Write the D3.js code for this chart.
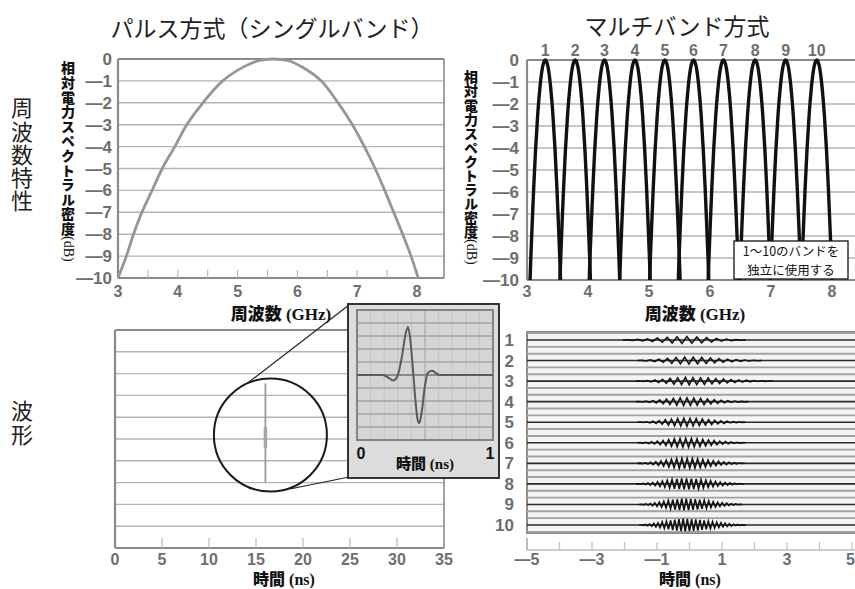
<!DOCTYPE html>
<html><head><meta charset="utf-8">
<script src="https://cdn.jsdelivr.net/npm/d3@7"></script>
<style>body{margin:0;background:#fff}svg{display:block}</style>
</head><body><svg id="c" width="855" height="589"></svg>
<script>
// ---------------- DATA ----------------
const freqTicks = [3, 4, 5, 6, 7, 8];
const freqMinorTicks = [3.5, 4, 4.5, 5, 5.5, 6, 6.5, 7, 7.5, 8];
const dbTicks = [0, -1, -2, -3, -4, -5, -6, -7, -8, -9, -10];

// single band spectrum (GHz, dB)
const singleGHz = [3.0, 3.14, 3.26, 3.4, 3.57, 3.74, 3.95, 4.15, 4.42, 4.75, 5.1, 5.35, 5.6, 5.85, 6.1, 6.4, 6.68, 6.92, 7.12, 7.3, 7.46, 7.61, 7.76, 7.9, 8.02];
const singleDB  = [-10, -9, -8, -7, -6, -5, -4, -3, -2, -1, -0.36, -0.08, 0, -0.08, -0.4, -1, -2, -3, -4, -5, -6, -7, -8, -9, -10];

// multiband spectrum
const bandLabels  = ["1", "2", "3", "4", "5", "6", "7", "8", "9", "10"];
const bandCenters = [3.30, 3.79, 4.27, 4.77, 5.26, 5.73, 6.22, 6.74, 7.24, 7.75];
const bandProfileOffset = [-0.25, -0.236, -0.216, -0.19, -0.16, -0.125, -0.086, -0.045, 0, 0.045, 0.086, 0.125, 0.16, 0.19, 0.216, 0.236, 0.25];
const bandProfileDB     = [-10, -8.9, -7.5, -5.8, -4.1, -2.5, -1.2, -0.32, 0, -0.32, -1.2, -2.5, -4.1, -5.8, -7.5, -8.9, -10];

// single band waveform (35 ns window)
const timeTicksSingle = [0, 5, 10, 15, 20, 25, 30, 35];
const pulseTime = 16;
const pulseSpan = [2.55, -2.0];
const pulseCore = [0.55, -0.4];

// zoomed pulse (0..1 ns)
const insetT = [0, 0.19, 0.23, 0.265, 0.295, 0.33, 0.36, 0.375, 0.39, 0.41, 0.43, 0.445, 0.458, 0.475, 0.5, 0.52, 0.55, 0.58, 0.61, 1];
const insetV = [0, 0, -0.2, -0.42, -0.15, 1.4, 3.3, 3.7, 2.9, 0.6, -2.0, -3.4, -3.7, -2.9, -0.8, 0.15, 0.32, 0.15, 0, 0];

// multiband waveforms
const timeTicksMulti = [-5, -3, -1, 1, 3, 5];
const rowStart = [-2.05, -1.6, -1.65, -1.65, -1.6, -1.6, -1.6, -1.65, -1.55, -1.55];
const rowPeakT = [-0.15, -0.1, -0.1, -0.15, -0.15, -0.15, -0.15, -0.15, -0.15, -0.15];
const rowEnd   = [1.8, 2.3, 2.6, 1.85, 1.75, 1.75, 1.75, 1.75, 1.65, 1.75];
const rowPeak  = [0.17, 0.17, 0.18, 0.19, 0.2, 0.22, 0.25, 0.27, 0.29, 0.31];
const envU = [0, 0.2, 0.4, 0.6, 0.8, 1];
const envA = [0, 0.12, 0.32, 0.6, 0.88, 1];

// ---------------- SETUP ----------------
const svg = d3.select('#c');
svg.append('rect').attr('width', 855).attr('height', 589).attr('fill', '#fff');
const NUM = "'Liberation Sans Narrow','Liberation Sans',Arial,sans-serif";
const JP = "'Noto Sans CJK JP','Noto Sans',sans-serif";
const SERIF = "'Liberation Serif','Times New Roman',serif";
const GRID = '#b4b4b4', FRAME = '#8a8a8a', TICKTXT = '#6e6e6e';

function numText(g, x, y, t, anchor, size) {
  return g.append('text').attr('x', x).attr('y', y).attr('text-anchor', anchor || 'middle')
    .style('font-family', NUM).style('font-weight', 'bold').style('font-size', (size || 17) + 'px')
    .attr('fill', TICKTXT).text(t);
}
function dbFmt(d) { return d === 0 ? '0' : '\u2014' + Math.abs(d); }
function vlabel(str, x, y0, size, weight, spacing, fill) {
  return svg.append('text').attr('x', x).attr('y', y0)
    .style('writing-mode', 'vertical-rl').style('font-family', JP).style('font-size', size + 'px')
    .style('font-weight', weight).style('letter-spacing', spacing + 'px').attr('fill', fill).text(str);
}
function axisTitle(cx, y, jp, latin, size) {
  const s = (size || 18) + 'px';
  const t = svg.append('text').attr('x', cx).attr('y', y).attr('text-anchor', 'middle').attr('fill', '#111');
  t.append('tspan').style('font-family', JP).style('font-weight', '900').style('font-size', s).text(jp);
  t.append('tspan').style('font-family', SERIF).style('font-weight', 'bold').style('font-size', s).text(' ' + latin);
}
function yTitle(x, y0, spacing) {
  const t = svg.append('text').attr('x', x).attr('y', y0)
    .style('writing-mode', 'vertical-rl').style('font-size', '14px').attr('fill', '#111');
  t.append('tspan').style('font-family', JP).style('font-weight', '900').style('letter-spacing', spacing + 'px').text('相対電力スペクトラル密度');
  t.append('tspan').style('font-family', SERIF).style('font-weight', 'normal').text('(dB)');
}

// ---------------- TITLES / SIDE LABELS ----------------
svg.append('text').attr('x', 272).attr('y', 37).attr('text-anchor', 'middle')
  .style('font-family', JP).style('font-size', '23px').attr('fill', '#222').text('パルス方式（シングルバンド）');
svg.append('text').attr('x', 677).attr('y', 35).attr('text-anchor', 'middle')
  .style('font-family', JP).style('font-size', '23px').attr('fill', '#222').text('マルチバンド方式');
vlabel('周波数特性', 22, 97, 22, 400, 1.2, '#222');
vlabel('波形', 22, 400, 22, 400, 2, '#222');

// ---------------- TOP LEFT: single band spectrum ----------------
{
  const x = d3.scaleLinear([3, 8], [118, 417]);
  const y = d3.scaleLinear([0, -10], [59, 278]);
  const xr = 444;
  const g = svg.append('g');
  g.selectAll('line.grid').data(dbTicks).join('line')
    .attr('x1', x(3)).attr('x2', xr).attr('y1', d => y(d)).attr('y2', d => y(d))
    .attr('stroke', d => (d === 0 || d === -10) ? FRAME : GRID).attr('stroke-width', d => (d === 0 || d === -10) ? 2.2 : 1.4);
  g.append('line').attr('x1', x(3)).attr('x2', x(3)).attr('y1', y(0)).attr('y2', y(-10)).attr('stroke', FRAME).attr('stroke-width', 2.2);
  g.append('line').attr('x1', xr).attr('x2', xr).attr('y1', y(0)).attr('y2', y(-10)).attr('stroke', FRAME).attr('stroke-width', 1.6);
  g.selectAll('line.mt').data(freqMinorTicks).join('line')
    .attr('x1', d => x(d)).attr('x2', d => x(d)).attr('y1', y(-10)).attr('y2', y(-10) - 8)
    .attr('stroke', '#bbb').attr('stroke-width', 1.2);
  const line = d3.line().x((d, i) => x(singleGHz[i])).y(d => y(d)).curve(d3.curveCatmullRom.alpha(0.5));
  g.append('path').attr('d', line(singleDB)).attr('fill', 'none').attr('stroke', '#969696').attr('stroke-width', 2.8);
  dbTicks.forEach(d => numText(g, 112, y(d) + 6, dbFmt(d), 'end'));
  freqTicks.forEach(d => numText(g, x(d), 297, d, 'middle', 16));
  yTitle(68, 61, 0.6);
  axisTitle(281, 320, '周波数', '(GHz)', 17);
}

// ---------------- TOP RIGHT: multiband spectrum ----------------
{
  const x = d3.scaleLinear([3, 8], [527, 832]);
  const y = d3.scaleLinear([0, -10], [60, 280]);
  const xr = 860;
  const g = svg.append('g');
  g.selectAll('line.grid').data(dbTicks).join('line')
    .attr('x1', x(3)).attr('x2', xr).attr('y1', d => y(d)).attr('y2', d => y(d))
    .attr('stroke', d => (d === 0 || d === -10) ? FRAME : GRID).attr('stroke-width', d => (d === 0 || d === -10) ? 2.2 : 1.4);
  g.append('line').attr('x1', x(3)).attr('x2', x(3)).attr('y1', y(0)).attr('y2', y(-10)).attr('stroke', FRAME).attr('stroke-width', 2.2);
  const line = d3.line().x(d => x(d[0])).y(d => y(d[1])).curve(d3.curveMonotoneX);
  bandCenters.forEach(c => {
    const pts = bandProfileOffset.map((o, i) => [c + o, bandProfileDB[i]]);
    g.append('path').attr('d', line(pts)).attr('fill', 'none').attr('stroke', '#111').attr('stroke-width', 3.4);
  });
  bandCenters.forEach((c, i) => numText(g, x(c), 56, bandLabels[i], 'middle', 16));
  dbTicks.forEach(d => numText(g, 519, y(d) + 6, dbFmt(d), 'end'));
  freqTicks.forEach(d => numText(g, x(d), 297, d, 'middle', 16));
  g.append('rect').attr('x', 734).attr('y', 241).attr('width', 114).attr('height', 38)
    .attr('fill', '#fff').attr('stroke', '#111').attr('stroke-width', 1.3);
  g.append('text').attr('x', 791).attr('y', 256).attr('text-anchor', 'middle')
    .style('font-family', JP).style('font-size', '12.5px').attr('fill', '#111').text('1〜10のバンドを');
  g.append('text').attr('x', 791).attr('y', 274.5).attr('text-anchor', 'middle')
    .style('font-family', JP).style('font-size', '12.5px').attr('fill', '#111').text('独立に使用する');
  yTitle(471, 70, 0.1);
  axisTitle(695, 320, '周波数', '(GHz)', 17);
}

// ---------------- BOTTOM LEFT: single band waveform ----------------
{
  const x = d3.scaleLinear([0, 35], [115, 444]);
  const y = d3.scaleLinear([5, -5], [330, 548]);
  const levels = [5, 4, 3, 2, 1, 0, -1, -2, -3, -4, -5];
  const g = svg.append('g');
  g.selectAll('line.grid').data(levels).join('line')
    .attr('x1', x(0)).attr('x2', x(35)).attr('y1', d => y(d)).attr('y2', d => y(d))
    .attr('stroke', d => (Math.abs(d) === 5) ? FRAME : GRID).attr('stroke-width', d => (Math.abs(d) === 5) ? 2.2 : 1.4);
  g.append('line').attr('x1', x(0)).attr('x2', x(0)).attr('y1', y(5)).attr('y2', y(-5)).attr('stroke', FRAME).attr('stroke-width', 2.2);
  g.append('line').attr('x1', x(35)).attr('x2', x(35)).attr('y1', y(5)).attr('y2', y(-5)).attr('stroke', FRAME).attr('stroke-width', 1.6);
  g.selectAll('line.t').data(timeTicksSingle.slice(1, -1)).join('line')
    .attr('x1', d => x(d)).attr('x2', d => x(d)).attr('y1', y(-5)).attr('y2', y(-5) - 10)
    .attr('stroke', '#bbb').attr('stroke-width', 1.2);
  timeTicksSingle.forEach(d => numText(g, x(d), 565, d, 'middle', 16));
  // pulse
  g.append('line').attr('x1', x(pulseTime)).attr('x2', x(pulseTime)).attr('y1', y(pulseSpan[0])).attr('y2', y(pulseSpan[1]))
    .attr('stroke', '#9a9a9a').attr('stroke-width', 1.8);
  g.append('line').attr('x1', x(pulseTime)).attr('x2', x(pulseTime)).attr('y1', y(pulseCore[0])).attr('y2', y(pulseCore[1]))
    .attr('stroke', '#a6a6a6').attr('stroke-width', 3.5);
  // magnifier
  const cx = x(pulseTime) + 5, cy = 435, r = 56.5;
  g.append('line').attr('x1', 249).attr('y1', 382).attr('x2', 349).attr('y2', 305).attr('stroke', '#222').attr('stroke-width', 1.2);
  g.append('line').attr('x1', 290).attr('y1', 489).attr('x2', 349).attr('y2', 477).attr('stroke', '#222').attr('stroke-width', 1.2);
  g.append('circle').attr('cx', cx).attr('cy', cy).attr('r', r).attr('fill', 'none').attr('stroke', '#1a1a1a').attr('stroke-width', 2);
  axisTitle(284, 585, '時間', '(ns)', 16);

  // inset
  const ig = svg.append('g');
  ig.append('rect').attr('x', 348).attr('y', 304).attr('width', 151).attr('height', 174)
    .attr('fill', '#dcdcdc').attr('stroke', '#333').attr('stroke-width', 2);
  const xi = d3.scaleLinear([0, 1], [357, 493]);
  const yi = d3.scaleLinear([5, -5], [310, 440]);
  ig.append('rect').attr('x', xi(0)).attr('y', yi(5)).attr('width', xi(1) - xi(0)).attr('height', yi(-5) - yi(5))
    .attr('fill', '#d5d5d5');
  const vgrid = [0.1, 0.2, 0.3, 0.4, 0.6, 0.7, 0.8, 0.9];
  ig.selectAll('line.vg').data(vgrid).join('line')
    .attr('x1', d => xi(d)).attr('x2', d => xi(d)).attr('y1', yi(5)).attr('y2', yi(-5))
    .attr('stroke', '#c4c4c4').attr('stroke-width', 1);
  ig.append('line').attr('x1', xi(0.5)).attr('x2', xi(0.5)).attr('y1', yi(5)).attr('y2', yi(-5))
    .attr('stroke', '#a8a8a8').attr('stroke-width', 1.2);
  ig.selectAll('line.hg').data([4, 3, 2, 1, 0, -1, -2, -3, -4]).join('line')
    .attr('x1', xi(0)).attr('x2', xi(1)).attr('y1', d => yi(d)).attr('y2', d => yi(d))
    .attr('stroke', d => d === 0 ? '#8a8a8a' : '#a3a3a3').attr('stroke-width', d => d === 0 ? 1.8 : 1.3);
  ig.append('rect').attr('x', xi(0)).attr('y', yi(5)).attr('width', xi(1) - xi(0)).attr('height', yi(-5) - yi(5))
    .attr('fill', 'none').attr('stroke', '#7a7a7a').attr('stroke-width', 1.8);
  const il = d3.line().x((d, i) => xi(insetT[i])).y(d => yi(d)).curve(d3.curveMonotoneX);
  ig.append('path').attr('d', il(insetV)).attr('fill', 'none').attr('stroke', '#5a5a5a').attr('stroke-width', 2);
  ig.append('text').attr('x', 361).attr('y', 459).attr('text-anchor', 'middle')
    .style('font-family', NUM).style('font-weight', 'bold').style('font-size', '16px').attr('fill', '#111').text('0');
  ig.append('text').attr('x', 490).attr('y', 459).attr('text-anchor', 'middle')
    .style('font-family', NUM).style('font-weight', 'bold').style('font-size', '16px').attr('fill', '#111').text('1');
  const t = ig.append('text').attr('x', 425).attr('y', 469).attr('text-anchor', 'middle').attr('fill', '#111');
  t.append('tspan').style('font-family', JP).style('font-weight', '900').style('font-size', '15px').text('時間');
  t.append('tspan').style('font-family', SERIF).style('font-weight', 'bold').style('font-size', '15px').text(' (ns)');
}

// ---------------- BOTTOM RIGHT: multiband waveforms ----------------
{
  const x = d3.scaleLinear([-5, 5], [527, 852]);
  const rowY = d3.scalePoint(bandLabels, [340, 525]);
  const step = rowY.step();
  const amp = d3.scaleLinear([0, 1], [0, step]);
  const g = svg.append('g');
  const top = rowY('1') - 8, bot = rowY('10') + 8;
  g.append('rect').attr('x', x(-5)).attr('y', top).attr('width', 340).attr('height', bot - top)
    .attr('fill', '#f4f4f4').attr('stroke', FRAME).attr('stroke-width', 2);
  bandLabels.forEach(b => {
    [-step / 3, step / 3].forEach(o => g.append('line').attr('x1', x(-5)).attr('x2', 860)
      .attr('y1', rowY(b) + o).attr('y2', rowY(b) + o).attr('stroke', '#a2a2a2').attr('stroke-width', 1.9));
  });
  bandLabels.forEach(b => g.append('line').attr('x1', x(-5)).attr('x2', 860)
    .attr('y1', rowY(b)).attr('y2', rowY(b)).attr('stroke', '#2a2a2a').attr('stroke-width', 1.6));
  function env(i, t) {
    const s = rowStart[i], p = rowPeakT[i], e = rowEnd[i];
    if (t <= s || t >= e) return 0;
    const u = t < p ? (t - s) / (p - s) : (e - t) / (e - p);
    let k = 1; while (k < envU.length - 1 && envU[k] < u) k++;
    const u0 = envU[k - 1], u1 = envU[k];
    return envA[k - 1] + (envA[k] - envA[k - 1]) * (u - u0) / (u1 - u0);
  }
  bandLabels.forEach((b, i) => {
    const f = bandCenters[i];
    const half = 1 / (2 * f);
    const pts = [];
    let k = 0;
    for (let t = rowStart[i]; t <= rowEnd[i]; t += half, k++) {
      pts.push([x(t), rowY(b) + (k % 2 ? -1 : 1) * amp(rowPeak[i]) * env(i, t)]);
    }
    g.append('path').attr('d', d3.line()(pts)).attr('fill', 'none').attr('stroke', '#141414').attr('stroke-width', 1.6);
  });
  bandLabels.forEach(b => numText(g, 514, rowY(b) + 6, b, 'end'));
  // x axis
  const ay = 550;
  g.append('line').attr('x1', x(-5)).attr('x2', 860).attr('y1', ay).attr('y2', ay).attr('stroke', '#bdbdbd').attr('stroke-width', 1.4);
  const minor = [-5, -4, -3, -2, -1, 0, 1, 2, 3, 4, 5];
  g.selectAll('line.t').data(minor).join('line')
    .attr('x1', d => x(d)).attr('x2', d => x(d)).attr('y1', ay).attr('y2', d => ay - (d === -5 ? 12 : 8))
    .attr('stroke', d => d === -5 ? '#999' : '#c4c4c4').attr('stroke-width', 1.3);
  timeTicksMulti.forEach(d => {
    const last = d === 5;
    numText(g, last ? 855 : x(d), 565, d < 0 ? '\u2014' + Math.abs(d) : d, last ? 'end' : 'middle', 16);
  });
  axisTitle(690, 585, '時間', '(ns)', 16);
}
</script></body></html>
